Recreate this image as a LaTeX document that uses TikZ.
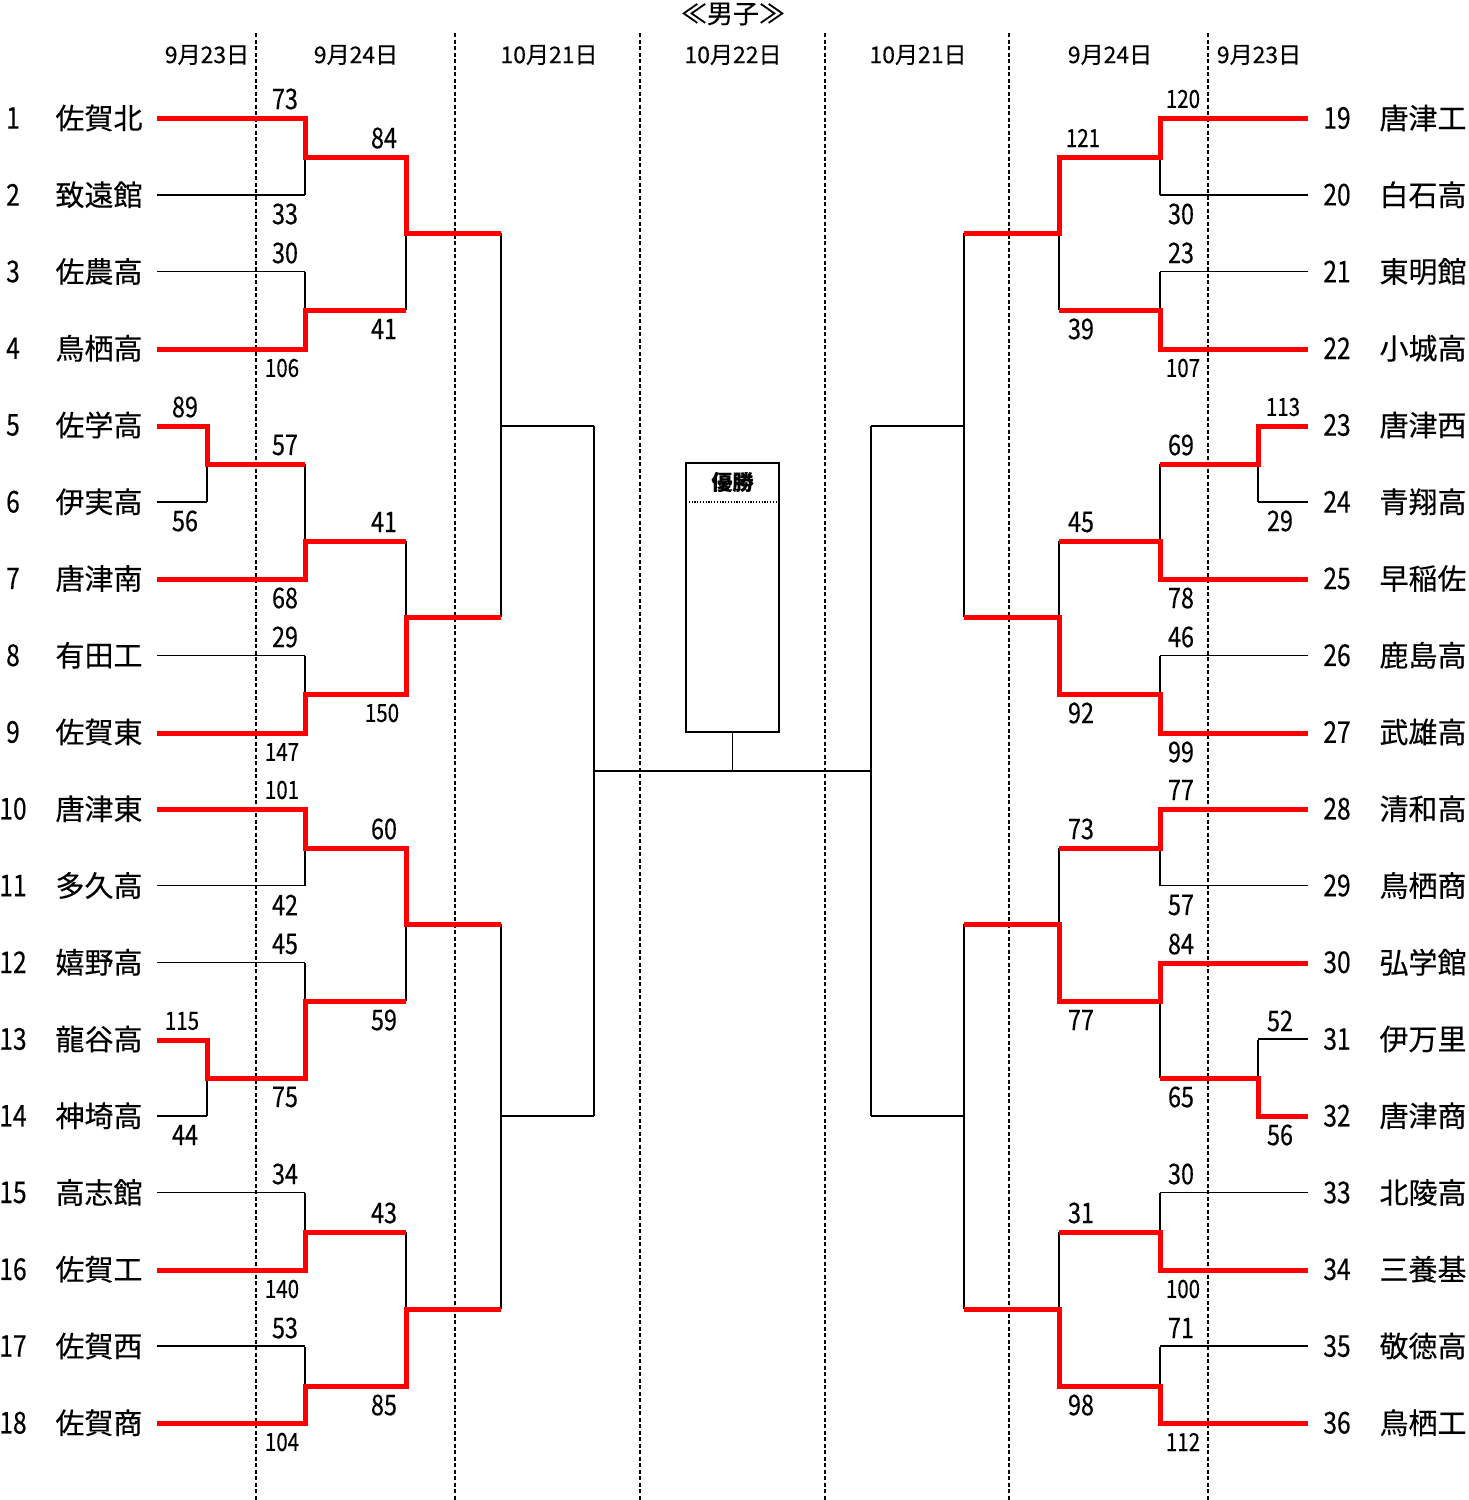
\documentclass[tikz,border=0pt]{standalone}
\usepackage{fontspec}
\setmainfont{Noto Sans CJK JP}[FakeBold=0.3]
\newfontfamily\numf{Noto Sans CJK JP}[FakeStretch=0.82,FakeBold=0.3]
\tikzset{
  bkthin/.style={line width=1.5pt, black},
  bkwin/.style={line width=5pt, red, line join=miter},
  bksep/.style={line width=1.1pt, dash pattern=on 4pt off 2.5pt},
  bkname/.style={font=\fontsize{29}{29}\selectfont, inner sep=0pt},
  bknum/.style={font=\numf\fontsize{30}{30}\selectfont, inner sep=0pt},
  bkscore/.style={font=\numf\fontsize{28.5}{28.5}\selectfont, inner sep=0pt},
  bksmall/.style={font=\numf\fontsize{25}{25}\selectfont, inner sep=0pt},
  bkdate/.style={font=\fontsize{23}{23}\selectfont, inner sep=0pt},
}
\newcommand{\bkblack}{%
  \foreach \r/\xe in {1/305,2/305,3/305,4/305,5/207,6/207,7/305,8/305,9/305,10/305,11/305,12/305,13/207,14/207,15/305,16/305,17/305,18/305}{
    \pgfmathsetmacro\yy{118+(\r-1)*76.75}
    \draw[bkthin] (157,\yy) -- (\xe,\yy);
  }
  \draw[bkthin] (207,426)--(207,502) (207,464)--(305,464)
                (207,1040)--(207,1116) (207,1078)--(305,1078);
  \draw[bkthin] (305,118)--(305,195) (305,157)--(406,157)
                (305,272)--(305,349) (305,310)--(406,310)
                (305,464)--(305,579) (305,541)--(406,541)
                (305,656)--(305,733) (305,694)--(406,694)
                (305,809)--(305,886) (305,848)--(406,848)
                (305,963)--(305,1078) (305,1001)--(406,1001)
                (305,1193)--(305,1270) (305,1232)--(406,1232)
                (305,1347)--(305,1423) (305,1386)--(406,1386);
  \draw[bkthin] (406,157)--(406,310) (406,233)--(501,233)
                (406,541)--(406,694) (406,617)--(501,617)
                (406,848)--(406,1001) (406,924)--(501,924)
                (406,1232)--(406,1386) (406,1309)--(501,1309);
  \draw[bkthin] (501,233)--(501,617) (501,426)--(594,426)
                (501,924)--(501,1309) (501,1116)--(594,1116)
                (594,426)--(594,1116);
}
\begin{document}
\begin{tikzpicture}[x=1pt,y=-1pt]
\useasboundingbox (0,0) rectangle (1468,1500);
% title and dates
\node[font=\fontsize{26}{26}\selectfont, inner sep=0pt] (title) at (733,14) {≪男子≫};
\foreach \x/\t [count=\k] in {207/9月23日,356/9月24日,549/10月21日,733/10月22日,918/10月21日,1110/9月24日,1259/9月23日}{
  \node[bkdate] (date\k) at (\x,55) {\t};
}
% separators
\foreach \x in {256,455,640,825,1009,1208}{
  \draw[bksep] (\x,33) -- (\x,1500);
}
% team labels
\foreach \i/\nm in {1/佐賀北,2/致遠館,3/佐農高,4/鳥栖高,5/佐学高,6/伊実高,7/唐津南,8/有田工,9/佐賀東,10/唐津東,11/多久高,12/嬉野高,13/龍谷高,14/神埼高,15/高志館,16/佐賀工,17/佐賀西,18/佐賀商}{
  \pgfmathsetmacro\yy{118+(\i-1)*76.75}
  \node[bknum] (n\i) at (13,\yy) {\i};
  \node[bkname] (s\i) at (99,\yy) {\nm};
}
\foreach \i/\nm in {19/唐津工,20/白石高,21/東明館,22/小城高,23/唐津西,24/青翔高,25/早稲佐,26/鹿島高,27/武雄高,28/清和高,29/鳥栖商,30/弘学館,31/伊万里,32/唐津商,33/北陵高,34/三養基,35/敬徳高,36/鳥栖工}{
  \pgfmathsetmacro\yy{118+(\i-19)*76.75}
  \node[bknum] (n\i) at (1337,\yy) {\i};
  \node[bkname] (s\i) at (1423,\yy) {\nm};
}
% left bracket
\begin{scope}
  \bkblack
  \draw[bkwin] (157,118)--(305,118)--(305,157)--(406,157)--(406,233)--(501,233);
  \draw[bkwin] (157,349)--(305,349)--(305,310)--(406,310);
  \draw[bkwin] (157,426)--(207,426)--(207,464)--(305,464);
  \draw[bkwin] (157,579)--(305,579)--(305,541)--(406,541);
  \draw[bkwin] (157,733)--(305,733)--(305,694)--(406,694)--(406,617)--(501,617);
  \draw[bkwin] (157,809)--(305,809)--(305,848)--(406,848)--(406,924)--(501,924);
  \draw[bkwin] (157,1040)--(207,1040)--(207,1078)--(305,1078)--(305,1001)--(406,1001);
  \draw[bkwin] (157,1270)--(305,1270)--(305,1232)--(406,1232);
  \draw[bkwin] (157,1423)--(305,1423)--(305,1386)--(406,1386)--(406,1309)--(501,1309);
\end{scope}
% right bracket (mirrored)
\begin{scope}[xshift=1465pt, xscale=-1]
  \bkblack
  \draw[bkwin] (157,118)--(305,118)--(305,157)--(406,157)--(406,233)--(501,233);
  \draw[bkwin] (157,349)--(305,349)--(305,310)--(406,310);
  \draw[bkwin] (157,426)--(207,426)--(207,464)--(305,464);
  \draw[bkwin] (157,579)--(305,579)--(305,541)--(406,541);
  \draw[bkwin] (157,733)--(305,733)--(305,694)--(406,694)--(406,617)--(501,617);
  \draw[bkwin] (157,809)--(305,809)--(305,848)--(406,848);
  \draw[bkwin] (157,1116)--(207,1116)--(207,1078)--(305,1078);
  \draw[bkwin] (157,963)--(305,963)--(305,1001)--(406,1001)--(406,924)--(501,924);
  \draw[bkwin] (157,1270)--(305,1270)--(305,1232)--(406,1232);
  \draw[bkwin] (157,1423)--(305,1423)--(305,1386)--(406,1386)--(406,1309)--(501,1309);
\end{scope}
% final
\coordinate (finL) at (594,771);
\coordinate (finR) at (871,771);
\draw[bkthin] (finL) -- (finR);
\node[draw, line width=1.5pt, minimum width=93pt, minimum height=269pt, inner sep=0pt] (champ) at (732.5,597.5) {};
\coordinate (dl) at (686,502);
\coordinate (dr) at (779,502);
\draw[line width=1.2pt, dash pattern=on 1.2pt off 1.6pt] (dl) -- (dr);
\node[font=\bfseries\fontsize{21}{21}\selectfont, inner sep=0pt] (yusho) at (732.5,482) {優勝};
\coordinate (stem) at (732.5,771);
\draw[bkthin] (champ.south) -- (stem);
% scores
\foreach \x/\y/\t in {285/99/73,285/214/33,285/253/30,285/445/57,285/598/68,285/637/29,285/905/42,285/944/45,285/1097/75,285/1174/34,285/1328/53,
  384/138/84,384/329/41,384/522/41,384/829/60,384/1020/59,384/1213/43,384/1405/85,
  185/407/89,185/521/56,185/1135/44,
  1181/214/30,1181/253/23,1181/445/69,1181/598/78,1181/637/46,1181/752/99,1181/790/77,1181/905/57,1181/944/84,1181/1097/65,1181/1174/30,1181/1328/71,
  1081/329/39,1081/522/45,1081/713/92,1081/829/73,1081/1020/77,1081/1213/31,1081/1405/98,
  1280/521/29,1280/1021/52,1280/1135/56}{
  \node[bkscore] (lab-\x-\y) at (\x,\y) {\t};
}
\foreach \x/\y/\t in {282/368/106,282/752/147,282/790/101,282/1289/140,282/1442/104,382/713/150,182/1021/115,
  1183/99/120,1183/368/107,1183/1289/100,1183/1442/112,1083/138/121,1283/407/113}{
  \node[bksmall] (lab-\x-\y) at (\x,\y) {\t};
}
\end{tikzpicture}
\end{document}
